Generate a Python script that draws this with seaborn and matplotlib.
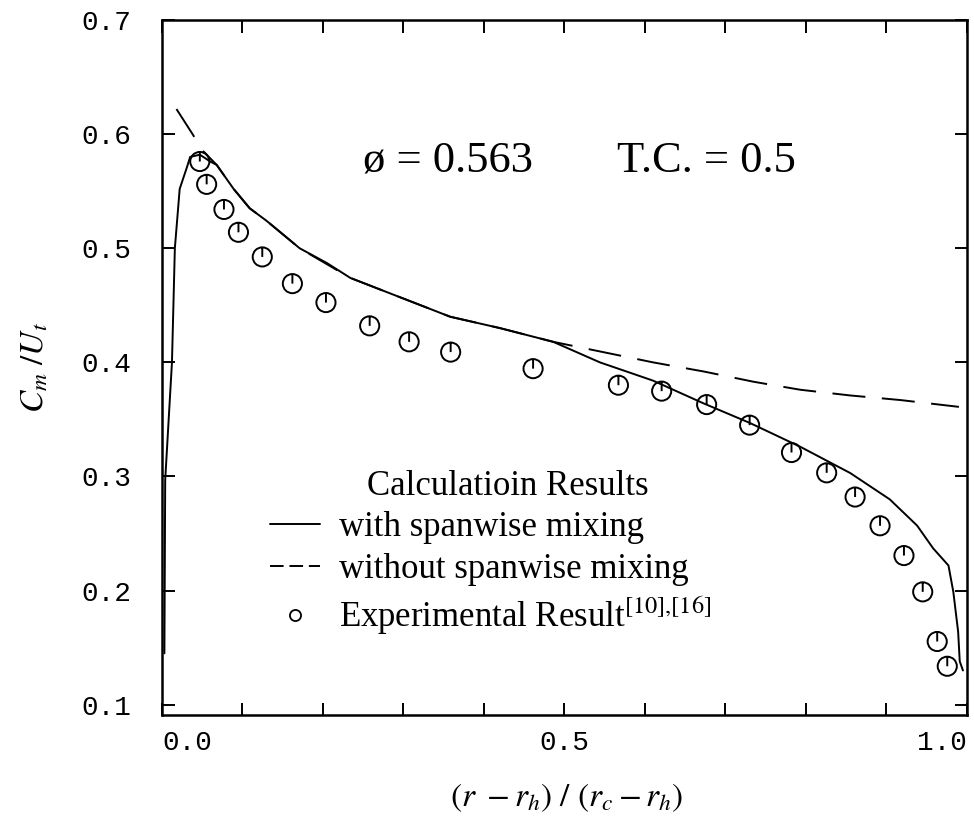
import numpy as np
import pandas as pd
import matplotlib
matplotlib.use('Agg')
import matplotlib.pyplot as plt
from matplotlib.path import Path
from matplotlib.lines import Line2D
import seaborn as sns

sns.set_theme(style='ticks')
plt.rcParams['font.family'] = ['Liberation Serif', 'DejaVu Serif']
plt.rcParams['mathtext.fontset'] = 'stix'
for k in ['text.color', 'axes.labelcolor', 'xtick.color', 'ytick.color', 'axes.edgecolor']:
    plt.rcParams[k] = 'black'

# calculation with spanwise mixing (solid)
x_with = [0.003, 0.004, 0.0124, 0.016, 0.022, 0.031, 0.035, 0.047, 0.060, 0.068,
          0.089, 0.109, 0.130, 0.171, 0.205, 0.234, 0.296, 0.358, 0.420, 0.486, 0.544,
          0.610, 0.673, 0.730, 0.793, 0.855, 0.904, 0.938, 0.958, 0.977, 0.983, 0.989,
          0.991, 0.995]
y_with = [0.145, 0.297, 0.400, 0.500, 0.552, 0.571, 0.580, 0.582, 0.576, 0.573,
          0.552, 0.535, 0.524, 0.500, 0.487, 0.474, 0.457, 0.440, 0.430, 0.418, 0.400,
          0.384, 0.364, 0.347, 0.326, 0.303, 0.280, 0.257, 0.237, 0.222, 0.199, 0.164,
          0.138, 0.130]

# calculation without spanwise mixing (dashed)
x_without = [0.018, 0.038, 0.050, 0.068, 0.089, 0.109, 0.130, 0.171, 0.234, 0.296, 0.358,
             0.420, 0.486, 0.548, 0.610, 0.673, 0.735, 0.793, 0.855, 0.917, 0.990]
y_without = [0.622, 0.600, 0.586, 0.573, 0.552, 0.535, 0.524, 0.500, 0.474, 0.457, 0.440,
             0.430, 0.418, 0.409, 0.400, 0.392, 0.383, 0.376, 0.371, 0.367, 0.361]

# experimental points
x_exp = [0.047, 0.0555, 0.077, 0.095, 0.1246, 0.162, 0.2037, 0.258, 0.307, 0.3586, 0.461,
         0.567, 0.6207, 0.6766, 0.730, 0.782, 0.8257, 0.861, 0.892, 0.9217, 0.945, 0.963,
         0.9755]
y_exp = [0.576, 0.556, 0.534, 0.514, 0.4924, 0.469, 0.4524, 0.432, 0.418, 0.409, 0.3945,
         0.380, 0.3748, 0.363, 0.345, 0.321, 0.3032, 0.282, 0.2568, 0.2307, 0.1989, 0.1554,
         0.1337]

yticks = [0.1, 0.2, 0.3, 0.4, 0.5, 0.6, 0.7]
xticks = [0.0, 0.1, 0.2, 0.3, 0.4, 0.5, 0.6, 0.7, 0.8, 0.9, 1.0]
xticklabels = ['0.0', '', '', '', '', '0.5', '', '', '', '', '1.0']

df_with = pd.DataFrame({'x': x_with, 'y': y_with})
df_without = pd.DataFrame({'x': x_without, 'y': y_without})
df_exp = pd.DataFrame({'x': x_exp, 'y': y_exp})

fig = plt.figure(figsize=(9.74, 8.24), dpi=100)
ax = fig.add_axes([0.1663, 0.1323, 0.8265, 0.8434])

sns.lineplot(data=df_with, x='x', y='y', sort=False, estimator=None, color='black', linewidth=1.4, ax=ax)
sns.lineplot(data=df_without, x='x', y='y', sort=False, estimator=None, color='black', linewidth=1.4, ax=ax)
ax.get_lines()[-1].set_dashes([17, 8.5])

# open circle with a small tick from centre to top
clock = Path.make_compound_path(Path.unit_circle(),
                                Path([(0, 0), (0, 1)], [Path.MOVETO, Path.LINETO]))
sns.scatterplot(data=df_exp, x='x', y='y', marker=clock, s=190, facecolor='none',
                edgecolor='black', linewidth=1.4, ax=ax, zorder=3)

ax.set_xlim(0, 1.0)
ax.set_ylim(0.091, 0.70)
ax.set_yticks(yticks)
ax.set_yticklabels(['%.1f' % v for v in yticks])
ax.set_xticks(xticks)
ax.set_xticklabels(xticklabels)
xl = ax.get_xticklabels()
xl[0].set_ha('left')
xl[-1].set_ha('right')

ax.tick_params(direction='in', top=True, right=True, length=9, width=1.4,
               labelsize=20, labelfontfamily='Liberation Mono')
ax.tick_params(axis='x', pad=11)
ax.tick_params(axis='y', pad=22)
for s in ax.spines.values():
    s.set_linewidth(1.8)

ax.set_xlabel(r'$(r\ -r_h)\ /\ (r_c - r_h)$', fontsize=24)
ax.set_ylabel(r'$C_m\ /U_t$', fontsize=24)
ax.xaxis.set_label_coords(0.503, -0.095)
ax.yaxis.set_label_coords(-0.139, 0.5)

ax.text(0.25, 0.567, 'ø = 0.563', fontsize=32, va='baseline')
ax.text(0.565, 0.567, 'T.C. = 0.5', fontsize=32, va='baseline')

handles = [Line2D([], [], color='black', lw=1.4),
           Line2D([], [], color='black', lw=1.4, dashes=[7, 3]),
           Line2D([], [], ls='none', marker='o', ms=8, mfc='none', mec='black', mew=1.3)]
labels = ['with spanwise mixing', 'without spanwise mixing',
          r'Experimental Result$^{\mathrm{[10]{,}[16]}}$']
ax.legend(handles=handles, labels=labels, title='    Calculatioin Results', frameon=False,
          loc='upper left', bbox_to_anchor=(0.134, 0.353), borderpad=0, borderaxespad=0,
          prop={'family': 'Liberation Serif', 'size': 25},
          title_fontproperties={'family': 'Liberation Serif', 'size': 25},
          handlelength=1.45, handletextpad=0.55, labelspacing=0.25)

fig.savefig('out.png', dpi=100)
